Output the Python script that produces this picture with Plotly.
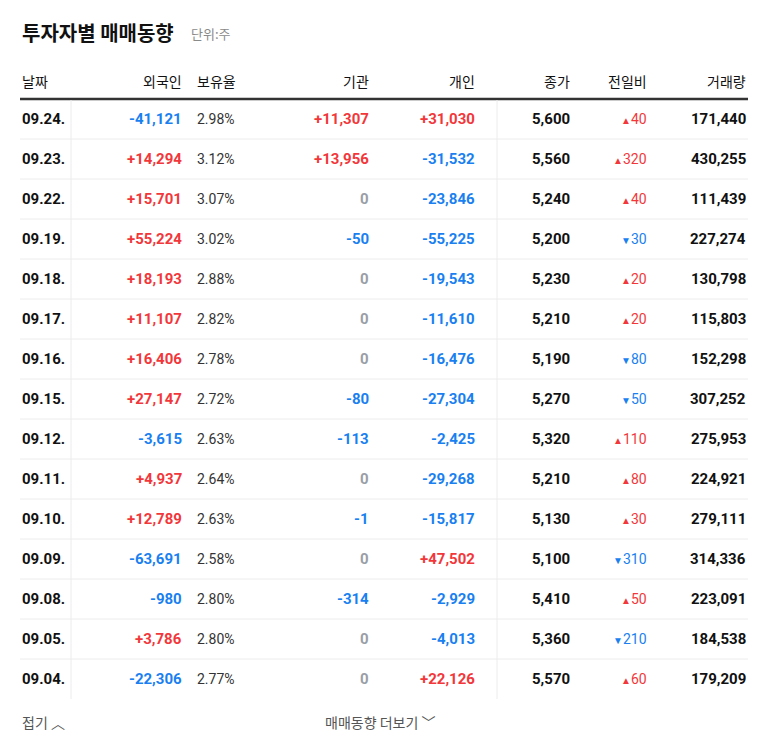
import plotly.graph_objects as go

dates = ["09.24.", "09.23.", "09.22.", "09.19.", "09.18.", "09.17.", "09.16.", "09.15.",
         "09.12.", "09.11.", "09.10.", "09.09.", "09.08.", "09.05.", "09.04."]
foreign = [-41121, 14294, 15701, 55224, 18193, 11107, 16406, 27147, -3615, 4937, 12789, -63691, -980, 3786, -22306]
holding = [2.98, 3.12, 3.07, 3.02, 2.88, 2.82, 2.78, 2.72, 2.63, 2.64, 2.63, 2.58, 2.80, 2.80, 2.77]
institution = [11307, 13956, 0, -50, 0, 0, 0, -80, -113, 0, -1, 0, -314, 0, 0]
individual = [31030, -31532, -23846, -55225, -19543, -11610, -16476, -27304, -2425, -29268, -15817, 47502, -2929, -4013, 22126]
close = [5600, 5560, 5240, 5200, 5230, 5210, 5190, 5270, 5320, 5210, 5130, 5100, 5410, 5360, 5570]
change = [40, 320, 40, -30, 20, 20, -80, -50, 110, 80, 30, -310, 50, -210, 60]
volume = [171440, 430255, 111439, 227274, 130798, 115803, 152298, 307252, 275953, 224921, 279111, 314336, 223091, 184538, 179209]
headers = ["날짜", "외국인", "보유율", "기관", "개인", "종가", "전일비", "거래량"]

RED, BLUE, GREY, DARK = "#f2373b", "#1a7ff0", "#9a9ea6", "#111111"
KR = "Noto Sans CJK KR"
NUM = "Roboto"

def signed(v):
    if v == 0:
        return "0", GREY
    return (f"+{v:,}", RED) if v > 0 else (f"{v:,}", BLUE)

fig = go.Figure()
ann = []
shapes = []

def add(x, y, text, color=DARK, size=15, anchor="right", family=NUM, bold=True):
    t = f"<b>{text}</b>" if bold else text
    ann.append(dict(x=x, y=y, text=t, showarrow=False, xanchor=anchor, yanchor="middle",
                    font=dict(family=family, size=size, color=color), xref="x", yref="y"))

add(20, 31, "투자자별 매매동향", size=20, anchor="left", family=KR)
add(189, 32, "단위:주", color="#8a8a8a", size=13, anchor="left", family=KR, bold=False)

hx = [(20, "left"), (184, "right"), (195, "left"), (371, "right"), (477, "right"),
      (572, "right"), (649, "right"), (748, "right")]
for (x, a), h in zip(hx, headers):
    add(x, 80, h, size=14, anchor=a, family=KR, bold=False)

shapes.append(dict(type="line", x0=20, x1=748, y0=98, y1=98, line=dict(color="#333", width=2.5)))

top, rh = 98, 40
for i in range(len(dates)):
    y = top + rh * i + rh / 2
    add(20, y, dates[i], anchor="left")
    t, c = signed(foreign[i]); add(184, y, t, c)
    add(195, y, f"{holding[i]:.2f}%", color="#333", size=14, anchor="left", bold=False)
    t, c = signed(institution[i]); add(371, y, t, c)
    t, c = signed(individual[i]); add(477, y, t, c)
    add(572, y, f"{close[i]:,}", DARK)
    ch = change[i]
    arrow = "▲" if ch > 0 else "▼"
    col = RED if ch > 0 else BLUE
    add(649, y, f"<span style='font-size:10px'>{arrow}</span>{abs(ch)}", col, size=14, bold=False)
    add(748, y, f"{volume[i]:,}", DARK)
    if i < len(dates) - 1:
        shapes.append(dict(type="line", x0=20, x1=748, y0=top + rh * (i + 1), y1=top + rh * (i + 1),
                           line=dict(color="#ececec", width=1)))

bottom = top + rh * len(dates)
for x in (71, 497):
    shapes.append(dict(type="line", x0=x, x1=x, y0=top + 1, y1=bottom, line=dict(color="#ececec", width=1)))

add(20, 721, "접기 ︿", color="#555", size=14, anchor="left", family=KR, bold=False)
add(323, 721, "매매동향 더보기 ﹀", color="#555", size=14, anchor="left", family=KR, bold=False)

fig.update_layout(
    width=768, height=749, margin=dict(l=0, r=0, t=0, b=0),
    paper_bgcolor="white", plot_bgcolor="white",
    xaxis=dict(range=[8, 776], visible=False, fixedrange=True),
    yaxis=dict(range=[756, 7], visible=False, fixedrange=True),
    annotations=ann, shapes=shapes, showlegend=False,
)
fig.write_html("out.html")
